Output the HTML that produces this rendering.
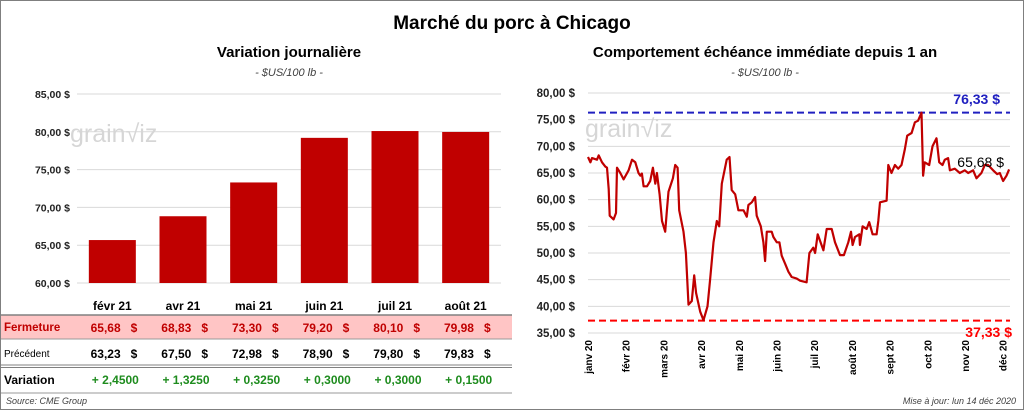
<!DOCTYPE html>
<html><head><meta charset="utf-8">
<style>
html,body{margin:0;padding:0;background:#fff;}
body{width:1024px;height:410px;position:relative;overflow:hidden;font-family:"Liberation Sans",sans-serif;}
#frame{position:absolute;left:0;top:0;width:1022px;height:408px;border:1px solid #7f7f7f;}
svg{position:absolute;left:0;top:0;}
.pre{white-space:pre;}
</style></head><body>
<div id="frame"></div>
<svg id="svg" width="1024" height="410">
<text x="512" y="29" text-anchor="middle" font-size="19" font-weight="bold" fill="#000">Marché du porc à Chicago</text>
<text x="289" y="57" text-anchor="middle" font-size="15" font-weight="bold">Variation  journalière</text>
<text x="289" y="76" text-anchor="middle" font-size="11" font-style="italic" fill="#404040">- $US/100 lb -</text>
<text x="765" y="57" text-anchor="middle" font-size="15" font-weight="bold">Comportement  échéance immédiate depuis 1 an</text>
<text x="765" y="76" text-anchor="middle" font-size="11" font-style="italic" fill="#404040">- $US/100 lb -</text>
<g id="left"></g>
<g id="right"></g>
<g id="table"></g>
<text x="6" y="404" font-size="9" font-style="italic" fill="#404040">Source: CME Group</text>
<text x="1016" y="404" text-anchor="end" font-size="9" font-style="italic" fill="#404040">Mise à jour: lun 14 déc 2020</text>
</svg>
<script>
const NS="http://www.w3.org/2000/svg";
function mk(p,t,a,txt){const e=document.createElementNS(NS,t);for(const k in a)e.setAttribute(k,a[k]);if(txt!==undefined)e.textContent=txt;p.appendChild(e);return e;}

// left bar chart data
const months=["févr 21","avr 21","mai 21","juin 21","juil 21","août 21"];
const closes=[65.68,68.83,73.30,79.20,80.10,79.98];
const prevs=[63.23,67.50,72.98,78.90,79.80,79.83];
const changes=["+ 2,4500","+ 1,3250","+ 0,3250","+ 0,3000","+ 0,3000","+ 0,1500"];
const leftTicks=[60,65,70,75,80,85];

// right line data
const days=[0,1.9,3.2,7.3,8.6,11.3,14,15.3,16.7,17.5,19.3,20.7,22.6,23.4,26.1,28.7,32.8,35.5,38.2,40.8,42.2,43.5,44.9,47.6,50.2,52.4,54.3,55.6,57.8,59.7,62.3,63.7,65,68.5,70.4,72.3,73.6,77.1,79,81.1,83.8,85.7,87.3,90.6,93.2,96.5,98.6,101.3,104,105.9,108,112,114.2,116,118.8,121.4,125.5,128.2,129.5,132.2,134.9,136.2,139.5,141.6,143,144.3,148.3,149.7,152.4,154.5,156.4,159.1,161.8,164.4,168.5,171.2,176.5,178.7,181.9,183.3,185.4,190,192.7,196.7,199.4,203.4,206.6,210.1,212.3,213.6,215.5,219,219.5,221.7,224.9,227,229.7,233,234.3,235.7,241,242.4,245,247.7,250.4,253.1,255.8,257.7,261.2,263.9,266.5,269.2,270.5,271.8,275.4,278.1,281.3,283.5,286.2,288,290.7,292.1,296.1,300.1,304.2,306.9,310.9,313.6,317.6,320.3,323,327,330.2,332.4,335.1,337.8,339.9];
const prices=[68,67,67.8,67.5,68.3,67,66.2,66,62,57,56.6,56.3,57.5,66,65,63.8,65.5,67.5,67,65,64.5,64.9,62.5,62.5,63.5,66,63,65,61,56,54,58,61.5,64,66.5,66,58,54,50,40.3,41,45.8,42.5,39,37.4,40,45,52,56,55,63,67.5,68,61.8,61,58,58,56.8,59,59.5,60.5,57,55,52,48.5,54,54,53,52,52,49.5,48,46.5,45.5,45.2,44.8,44.5,50,51,50,53.5,50.5,54.5,54.5,52,49.6,49.6,52,54,51.5,53,53.5,51.5,55,54.5,55.8,53.5,53.5,56,59.5,59.8,66.5,65,66.5,65.8,66.5,69.5,72,72.5,74.5,74.8,76.3,64.5,67,66.5,70,71.5,67,66.5,67.5,67.8,65.5,65.8,65,65.5,65,65.5,64,65,66.5,66.5,65.5,64.8,65,63.5,64.5,65.68];
const rightTicks=[35,40,45,50,55,60,65,70,75,80];
const monthLabels=["janv 20","févr 20","mars 20","avr 20","mai 20","juin 20","juil 20","août 20","sept 20","oct 20","nov 20","déc 20"];
const highVal=76.33, lowVal=37.33, lastVal=65.68;

const fmt=v=>v.toFixed(2).replace(".",",");

// left chart
const L=document.getElementById("left");
const lx0=77,lx1=501,ly=v=>283-(v-60)*(189/25);
const band=(lx1-lx0)/months.length;
for(const t of leftTicks){
 const g=mk(L,"line",{x1:lx0,x2:lx1,y1:ly(t),y2:ly(t),stroke:"#d9d9d9","stroke-width":1});
 
 
 const tx=mk(L,"text",{x:70,y:ly(t)+4,"text-anchor":"end","font-size":10.5,"font-weight":"bold",fill:"#222"},fmt(t)+" $");
 
 
}
const w1=mk(L,"text",{x:70,y:142,"font-size":25,fill:"#d6d6d6"},"grain\u221Aiz");


closes.forEach((v,i)=>{
 const cx=lx0+band*(i+0.5);
 const r=mk(L,"rect",{x:cx-23.5,y:ly(v),width:47,height:ly(60)-ly(v),fill:"#c00000"});
 
 
});

// table
const T=document.getElementById("table");
const bg=mk(T,"rect",{x:1,y:315,width:511,height:24,fill:"#ffc5c5"});


mk(T,"line",{x1:1,x2:512,y1:315,y2:315,stroke:"#808080","stroke-width":1.5});
mk(T,"line",{x1:1,x2:512,y1:339,y2:339,stroke:"#999","stroke-width":1});
mk(T,"line",{x1:1,x2:512,y1:365,y2:365,stroke:"#808080","stroke-width":1});
mk(T,"line",{x1:1,x2:512,y1:367.5,y2:367.5,stroke:"#808080","stroke-width":1});
mk(T,"line",{x1:1,x2:512,y1:393,y2:393,stroke:"#999","stroke-width":1});
const h1=mk(T,"text",{x:4,y:331,"font-size":11.5,"font-weight":"bold",fill:"#c00000"},"Fermeture");


const h2=mk(T,"text",{x:4,y:357,"font-size":10,fill:"#000"},"Précédent");


const h3=mk(T,"text",{x:4,y:384,"font-size":12,"font-weight":"bold",fill:"#000"},"Variation");


months.forEach((m,i)=>{
 const cx=lx0+band*(i+0.5);
 const a=mk(T,"text",{x:cx,y:310,"text-anchor":"middle","font-size":12,"font-weight":"bold"},m);
 
 
 const b=mk(T,"text",{x:cx+25,y:332,"text-anchor":"end","font-size":12,"font-weight":"bold",fill:"#c00000",class:"pre"},fmt(closes[i])+"   $");
 
 
 const c=mk(T,"text",{x:cx+25,y:358,"text-anchor":"end","font-size":12,"font-weight":"bold",fill:"#000",class:"pre"},fmt(prevs[i])+"   $");
 
 
 const d=mk(T,"text",{x:cx+3,y:384,"text-anchor":"middle","font-size":12,"font-weight":"bold",fill:"#1e8c1e"},changes[i]);
 
 
});

// right chart
const R=document.getElementById("right");
const rx=d=>588+d*(415/335), ry=v=>333-(v-35)*(240/45);
for(const t of rightTicks){
 const g=mk(R,"line",{x1:588,x2:1010,y1:ry(t),y2:ry(t),stroke:"#d9d9d9","stroke-width":1});
 
 
 const tx=mk(R,"text",{x:575,y:ry(t)+4,"text-anchor":"end","font-size":11.5,"font-weight":"bold",fill:"#222"},fmt(t)+" $");
 
 
}
const w2=mk(R,"text",{x:585,y:137,"font-size":25,fill:"#d6d6d6"},"grain\u221Aiz");


monthLabels.forEach((m,i)=>{
 const x=588+i*37.7;
 const t=mk(R,"text",{x:0,y:0,transform:`translate(${x+4},340) rotate(-90)`,"text-anchor":"end","font-size":10,"font-weight":"bold"},m);
 
 
});
const hl=mk(R,"line",{x1:588,x2:1010,y1:ry(highVal),y2:ry(highVal),stroke:"#2020c0","stroke-width":2,"stroke-dasharray":"7,4"});


const ll=mk(R,"line",{x1:588,x2:1010,y1:ry(lowVal),y2:ry(lowVal),stroke:"#ff0000","stroke-width":2,"stroke-dasharray":"7,4"});


let dpath=days.map((d,i)=>(i?"L":"M")+rx(d).toFixed(1)+","+ry(prices[i]).toFixed(1)).join(" ");
const pl=mk(R,"path",{d:dpath,fill:"none",stroke:"#c00000","stroke-width":2.2,"stroke-linejoin":"round"});


const ht=mk(R,"text",{x:1000,y:104,"text-anchor":"end","font-size":14,"font-weight":"bold",fill:"#2020c0"},fmt(highVal)+" $");


const lt=mk(R,"text",{x:1012,y:337,"text-anchor":"end","font-size":14,"font-weight":"bold",fill:"#ff0000"},fmt(lowVal)+" $");


const la=mk(R,"text",{x:1004,y:167,"text-anchor":"end","font-size":14,fill:"#000"},fmt(lastVal)+" $");


</script>
</body></html>
